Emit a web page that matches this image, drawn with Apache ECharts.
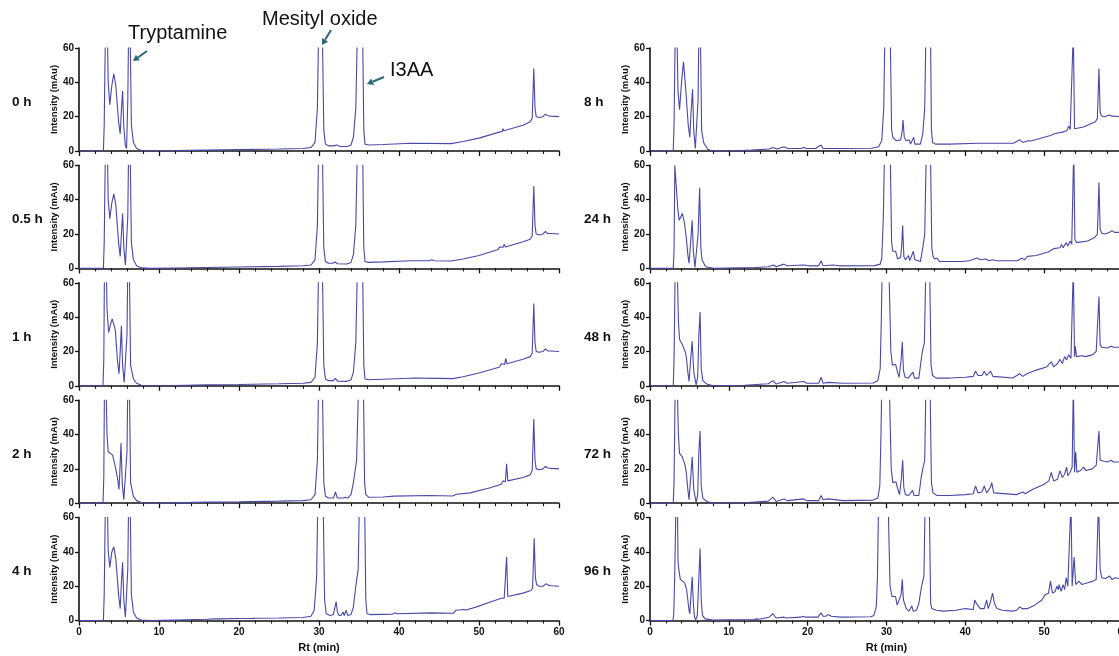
<!DOCTYPE html>
<html>
<head>
<meta charset="utf-8">
<script src="https://cdn.jsdelivr.net/npm/echarts@6/dist/echarts.min.js"></script>
<style>
html,body{margin:0;padding:0;background:#fff;}
#chart{width:1119px;height:656px;}
</style>
</head>
<body>
<div id="chart"></div>
<script>
// ---- Data (retention time in min, intensity in mAu), flat pairs [t, y, t, y, ...] ----
const panelLabels = ['0 h','0.5 h','1 h','2 h','4 h','8 h','24 h','48 h','72 h','96 h'];
const xTicks = [0,10,20,30,40,50,60];
const yTicks = [0,20,40,60];
const annotations = ['Tryptamine','Mesityl oxide','I3AA'];

const trace_0h = [0,0, 3.05,0, 3.15,15, 3.3,70, 3.45,200, 3.58,60, 3.65,40, 3.85,27, 4.1,38, 4.35,45, 4.6,38, 4.95,17, 5.15,10, 5.3,24, 5.45,35, 5.6,14, 5.8,3, 5.95,1.5, 6.1,30, 6.2,70, 6.3,200, 6.42,60, 6.55,15, 6.8,5, 7.2,1.5, 7.8,0.3, 9,0, 12,0.2, 16,0.5, 20,0.8, 25,1.2, 28,1.5, 29,2, 29.5,5, 29.8,25, 29.95,70, 30.2,250, 30.45,60, 30.6,12, 30.8,4, 31.2,3, 31.8,3, 32.2,3.5, 32.6,2.7, 33.5,2.6, 34,3.5, 34.3,8, 34.6,25, 34.8,70, 35.1,250, 35.45,70, 35.6,12, 35.75,4, 36.2,3.5, 38,3.8, 41.5,4.5, 46.5,4.3, 48,5.5, 50,7.5, 52.5,11, 52.9,11.5, 53.0,13, 53.1,11.8, 55.5,15, 56.4,17, 56.65,19, 56.85,48, 57.0,25, 57.15,20, 57.5,19.5, 58,20, 58.3,21.5, 58.6,20.5, 59,20.3, 60,20];
const trace_05h = [0,0, 3.05,0, 3.15,15, 3.3,70, 3.45,200, 3.58,60, 3.65,40, 3.85,29, 4.1,38, 4.35,43.5, 4.6,37, 4.95,15, 5.15,7, 5.3,20, 5.45,32, 5.6,12, 5.8,2, 5.95,1, 6.1,30, 6.2,70, 6.3,200, 6.42,60, 6.55,15, 6.8,5, 7.2,1.5, 7.8,0.3, 9,0, 12,0.2, 16,0.5, 20,0.8, 25,1.2, 28,1.5, 29,2, 29.5,5, 29.8,25, 29.95,70, 30.2,250, 30.45,60, 30.6,12, 30.8,4, 31.2,3, 31.7,3, 32.0,3.7, 32.3,2.7, 33.5,2.6, 34,3.5, 34.3,8, 34.6,25, 34.8,70, 35.1,250, 35.45,70, 35.6,12, 35.75,4, 36.2,3.5, 38,3.8, 41.5,4.5, 43.8,4.5, 44.1,5, 44.4,4.5, 46.5,4.3, 48,5.5, 50,7.5, 52.4,11, 52.55,12.5, 52.7,11.5, 53.0,12.3, 53.15,14, 53.3,12.5, 55.5,15.5, 56.4,17, 56.65,19, 56.85,48, 57.0,25, 57.15,20, 57.5,19.5, 58,20, 58.3,21.5, 58.6,20.3, 59,20.3, 60,20];
const trace_1h = [0,0, 3.0,0, 3.1,15, 3.2,80, 3.32,200, 3.45,60, 3.5,45, 3.7,31, 3.95,36, 4.15,39, 4.4,35, 4.55,32, 4.8,15, 5.0,7, 5.15,20, 5.3,35, 5.45,12, 5.65,2, 5.85,1, 6.0,30, 6.1,70, 6.2,200, 6.32,60, 6.45,12, 6.8,4, 7.2,1.5, 7.8,0.3, 9,0, 12,0.2, 16,0.6, 20,0.8, 25,1.2, 28,1.5, 29,2, 29.5,5, 29.8,25, 29.95,70, 30.2,250, 30.45,60, 30.6,12, 30.8,4, 31.2,3, 31.8,3, 32.05,4.3, 32.3,2.7, 33.5,2.6, 34,3.5, 34.3,8, 34.6,25, 34.8,70, 35.1,250, 35.45,70, 35.6,12, 35.75,4, 36.2,3.5, 38,3.8, 42,4.5, 44.4,4.3, 44.6,5, 44.8,4.3, 46.7,4.2, 48,5.3, 50,7.5, 52.6,11, 52.75,12.8, 52.9,11.8, 53.2,12.5, 53.35,16, 53.5,12.8, 55.5,15.5, 56.4,17, 56.65,19, 56.85,48, 57.0,25, 57.15,20, 57.5,19.5, 58,20, 58.3,21.5, 58.6,20.3, 59,20.3, 60,20];
const trace_2h = [0,0, 3.0,0, 3.1,15, 3.2,80, 3.3,200, 3.42,60, 3.5,40, 3.65,30, 3.9,30, 4.2,28, 4.5,22, 4.8,15, 5.0,8, 5.12,20, 5.25,35, 5.4,12, 5.6,2, 5.85,1.5, 6.0,30, 6.1,70, 6.2,200, 6.32,60, 6.45,12, 6.8,4, 7.2,1.5, 7.8,0.3, 9,0, 12,0.2, 16,0.6, 20,0.8, 25,1.2, 28,1.5, 29,2, 29.5,5, 29.8,25, 29.95,70, 30.2,250, 30.45,60, 30.6,12, 30.8,4, 31.2,3, 31.8,3, 32.05,6.5, 32.3,3, 33.0,3, 33.3,3.5, 33.6,3, 34.0,5, 34.3,12, 34.7,25, 34.95,70, 35.25,250, 35.55,70, 35.7,12, 35.85,5, 36.2,3.5, 38.0,3.6, 38.2,4.5, 38.4,3.8, 39.0,4, 39.2,4.6, 39.4,4.1, 43.8,4.5, 46.7,4.2, 47.2,5.2, 48.9,6, 51.4,9, 52.8,11, 53.0,13, 53.15,12, 53.3,12.5, 53.45,23, 53.6,13, 55.5,15, 56.4,16.5, 56.65,19, 56.85,49, 57.0,25, 57.15,20, 57.5,19.5, 58,20, 58.3,21.5, 58.6,20.5, 59,20.3, 60,20];
const trace_4h = [0,0, 3.05,0, 3.15,15, 3.3,70, 3.45,200, 3.58,60, 3.65,41, 3.85,31, 4.1,40, 4.35,43, 4.6,36, 4.95,15, 5.15,7, 5.3,22, 5.45,34, 5.6,12, 5.8,2, 5.95,1, 6.1,30, 6.2,70, 6.3,200, 6.42,60, 6.55,15, 6.8,5, 7.2,1.5, 7.8,0.3, 9,0, 12,0.3, 16,0.8, 17.0,1, 17.2,1.7, 17.4,1, 20,1.2, 21.7,1.3, 21.9,2.2, 22.1,1.4, 25,1.5, 28,1.8, 29,2.5, 29.4,6, 29.7,25, 29.85,70, 30.2,250, 30.55,60, 30.7,12, 30.9,4, 31.4,3, 31.8,3.5, 32.0,8, 32.15,11, 32.3,5, 32.5,3, 32.8,3.2, 33.0,5, 33.15,3, 33.4,6, 33.6,3, 34.0,3.5, 34.3,8, 34.6,20, 34.9,30, 35.05,70, 35.35,250, 35.7,70, 35.85,12, 36.0,4, 36.4,3.5, 39.2,3.8, 39.5,4.5, 39.8,4, 44,4.5, 46.8,4.3, 47.1,6, 47.3,5.2, 48.1,6.5, 48.4,6.2, 49.7,8, 51.5,11, 52.8,13, 53.0,14, 53.15,13, 53.3,13.5, 53.45,37, 53.6,14, 55.5,16, 56.5,17.5, 56.7,19, 56.9,48, 57.05,25, 57.2,21, 57.5,20, 58,20, 58.4,21.5, 58.7,20.5, 59,20.3, 60,20];
const trace_8h = [0,0, 2.95,0, 3.05,15, 3.2,70, 3.33,200, 3.45,60, 3.55,35, 3.75,24, 4.0,40, 4.25,52, 4.55,35, 4.85,15, 5.05,8, 5.2,22, 5.4,36, 5.55,12, 5.75,1.5, 5.95,1, 6.1,30, 6.2,70, 6.3,200, 6.42,60, 6.55,12, 6.8,5, 7.3,1, 7.9,0.2, 10,0, 12.9,0.5, 15.1,1.2, 15.6,2, 16.1,1.2, 17.0,2.5, 17.5,1.5, 19.2,1.5, 19.5,2.2, 19.8,1.5, 21.0,1.5, 21.7,3.5, 21.95,1.5, 24.5,1.5, 28.1,1.6, 29.0,2.5, 29.4,6, 29.65,25, 29.8,70, 30.15,250, 30.5,60, 30.65,12, 30.8,8, 31.2,6, 31.8,6.5, 32.0,12, 32.1,18, 32.25,8, 32.5,6, 32.7,5, 32.9,6.5, 33.05,4, 33.3,5, 33.45,8, 33.6,4, 34.3,4, 34.6,10, 34.85,25, 35.0,70, 35.3,250, 35.6,60, 35.7,12, 35.85,5, 36.2,4, 38,4, 41.6,4.5, 46.1,4.5, 46.9,6.5, 47.3,5, 47.9,6, 48.3,5.8, 50.8,9, 51.3,10, 52.3,11, 52.9,12, 53.1,14.5, 53.3,12.5, 53.55,13, 53.7,70, 53.85,13, 55.0,14, 56.5,17, 56.75,19, 56.95,48, 57.1,23, 57.25,20.5, 57.6,20, 58.3,21, 58.6,20.3, 60,20];
const trace_24h = [0,0, 2.95,0, 3.05,10, 3.15,60, 3.35,60, 3.45,40, 3.5,36, 3.7,28, 3.9,30, 4.1,32, 4.35,27, 4.6,18, 4.8,8, 4.95,3, 5.15,15, 5.35,28, 5.5,10, 5.7,0.5, 5.95,1, 6.1,20, 6.3,47, 6.45,12, 6.6,5, 7.05,1, 8.1,0, 13.4,0.5, 15.0,1, 15.7,2, 16.0,1, 17.0,2.5, 17.4,1.5, 19.5,2, 20.2,1.5, 21.4,1.5, 21.7,4.5, 21.95,1.5, 23.2,2, 24,1.5, 28.5,1.6, 29.2,2.5, 29.4,6, 29.6,30, 29.75,70, 30.1,250, 30.5,60, 30.65,15, 30.8,10, 31.0,9, 31.15,10, 31.4,5.5, 31.8,6.5, 31.95,15, 32.05,25, 32.2,7, 32.4,5, 32.6,5.5, 32.8,7.5, 32.95,4.5, 33.2,5, 33.4,10, 33.6,5, 34.3,4, 34.6,12, 34.85,20, 35.05,70, 35.35,250, 35.6,60, 35.75,12, 35.9,7, 36.1,5.5, 36.4,6, 36.7,4, 39.5,4, 40.5,4.5, 41.5,6, 41.9,5, 42.6,5.5, 43.0,4.5, 43.4,5, 44,4.5, 46.6,4.5, 47.2,6, 47.5,5, 47.9,7, 49.0,7.5, 50.5,9.5, 51.2,11.5, 51.4,10.5, 52.0,12, 52.2,14, 52.4,12, 52.8,15, 53.0,13, 53.3,16, 53.5,14, 53.6,15, 53.75,70, 53.9,17, 54.1,15, 55.5,16, 56.4,18, 56.75,20, 56.95,50, 57.1,23, 57.3,20.5, 57.7,20, 58.3,21, 58.6,22, 58.9,21, 60,21];
const trace_48h = [0,0, 2.95,0, 3.05,15, 3.2,70, 3.35,200, 3.5,60, 3.6,38, 3.75,27, 4.1,24, 4.45,20, 4.6,17, 4.8,8, 4.95,2.5, 5.15,15, 5.35,26, 5.55,8, 5.85,0.5, 6.05,5, 6.2,30, 6.35,43, 6.5,10, 6.7,3, 7.2,1, 8.0,0, 12,0.3, 15.0,1.2, 15.6,3, 16.0,1, 17.0,2.5, 17.4,1.5, 19.5,2.5, 19.9,1.5, 21.4,1.5, 21.7,5, 21.95,1.5, 22.6,2, 24.5,1.5, 28.3,1.6, 28.9,3, 29.2,10, 29.35,40, 29.45,70, 29.9,250, 30.35,60, 30.55,20, 30.75,12, 30.95,11, 31.15,12.5, 31.4,8, 31.6,5, 31.85,15, 32.0,25.5, 32.15,9, 32.35,5, 32.55,6, 32.75,4.5, 33.35,8, 33.55,4.5, 34.1,4.5, 34.4,15, 34.55,20, 34.8,25, 35.0,70, 35.25,250, 35.5,60, 35.65,12, 35.85,6, 36.1,6.5, 36.3,4.5, 38,4.5, 40,5, 41.0,5.5, 41.3,8.5, 41.6,6, 42.1,6, 42.4,8.5, 42.7,6, 43.2,8.5, 43.5,5.5, 46.0,4.5, 46.9,7, 47.3,5.5, 47.8,7, 48.9,9, 50.3,11, 50.9,14, 51.2,11, 51.7,13, 52.0,15.5, 52.3,13, 52.6,17, 52.85,15, 53.1,18, 53.4,16, 53.55,17, 53.7,70, 53.85,17, 53.95,23, 54.1,17, 54.8,17.5, 55.2,17, 56.1,18, 56.6,20, 56.95,52, 57.1,24, 57.3,22.5, 58,22, 58.5,23, 58.8,22.5, 60,22.5];
const trace_72h = [0,0, 2.95,0, 3.05,12, 3.2,70, 3.35,200, 3.5,60, 3.6,40, 3.75,29, 4.1,27, 4.45,22, 4.6,18, 4.8,8, 4.95,2, 5.15,14, 5.35,27, 5.55,8, 5.85,0.5, 6.05,5, 6.2,30, 6.35,42, 6.5,10, 6.7,3, 7.2,1, 8.0,0, 12,0.3, 15.0,1.2, 15.6,3.5, 16.0,1, 17.0,2.5, 17.4,1.5, 19.5,2.5, 19.9,1.5, 21.4,1.5, 21.7,4.5, 21.95,2, 22.6,2.5, 24.5,1.5, 28.3,1.8, 28.9,3, 29.15,10, 29.3,40, 29.4,70, 29.9,250, 30.4,60, 30.6,20, 30.8,12, 31.0,11, 31.2,12.5, 31.45,8, 31.65,5, 31.9,15, 32.05,25, 32.2,9, 32.4,5, 32.6,6, 32.8,4.5, 33.3,7.5, 33.5,4.5, 34.1,4.5, 34.4,15, 34.6,20, 34.85,25, 35.0,70, 35.3,250, 35.55,60, 35.7,12, 35.9,6, 36.15,6.5, 36.4,4.5, 38,4.5, 40,5, 41.0,5.5, 41.3,10, 41.6,6, 42.1,6.5, 42.4,10, 42.7,6, 43.15,9, 43.35,12, 43.6,6, 46.5,5, 47.3,6.5, 47.6,5.5, 48.5,8, 50.0,11, 50.6,13, 50.9,18, 51.2,13, 51.7,14, 52.0,19, 52.3,15, 52.6,17, 52.85,21, 53.0,16, 53.3,18, 53.55,21, 53.7,70, 53.85,18, 54.0,30, 54.15,18, 54.6,19, 55.0,21, 55.3,19, 56.1,20, 56.6,22, 56.95,42, 57.1,25, 57.3,24, 58,24, 58.5,25, 58.8,24, 60,24];
const trace_96h = [0,0, 2.9,0, 3.0,3, 3.05,10, 3.15,30, 3.3,70, 3.4,200, 3.5,60, 3.55,35, 3.65,30, 3.85,24, 4.05,23, 4.4,22, 4.65,18, 4.8,12, 4.95,6, 5.05,4, 5.2,15, 5.35,25.5, 5.5,10, 5.65,2, 5.8,0.5, 6.0,3, 6.2,25, 6.35,42, 6.5,12, 6.65,3, 7.0,1, 8.0,0.3, 9.9,0.5, 13.2,0.5, 13.5,1, 13.8,0.8, 15.1,2, 15.6,4, 16.0,1.5, 17.0,2, 17.3,1.5, 19.1,2, 19.4,2.5, 19.7,2, 21.3,2, 21.7,4.5, 21.95,2.5, 22.3,2.5, 22.6,3.5, 23.0,2.5, 24.2,2, 28.0,2.2, 28.4,3, 28.7,8, 28.85,25, 29.0,70, 29.6,250, 30.25,60, 30.45,20, 30.7,14, 30.95,13, 31.15,14, 31.35,9, 31.6,8, 31.85,15, 32.0,24, 32.15,12, 32.3,13, 32.5,7, 32.85,5.5, 33.2,8.5, 33.4,5.5, 33.8,6, 34.1,10, 34.45,20, 34.75,26, 34.9,70, 35.2,250, 35.45,60, 35.6,10, 35.75,7, 36.0,8, 36.3,6, 37.2,5.5, 38.8,6, 40.0,7, 40.2,6, 41.0,6.5, 41.2,12, 41.4,10, 41.55,11, 41.9,7, 42.4,7, 42.7,12, 42.9,7, 43.2,11, 43.45,16, 43.7,10, 44.0,7, 44.7,6, 46.0,5.5, 46.5,6, 46.9,8, 47.2,7, 47.9,7, 48.8,9, 49.7,12, 50.1,15, 50.35,14, 50.55,16, 50.8,23, 51.05,16, 51.4,17, 51.6,20, 51.8,18, 51.9,21, 52.15,17, 52.4,21, 52.6,18, 52.8,25, 53.0,20, 53.15,21, 53.4,70, 53.55,20, 53.8,37, 54.0,21, 54.4,23, 54.8,21, 55.5,22, 56.2,23, 56.6,24, 56.9,70, 57.1,30, 57.3,25, 57.8,24.5, 58.3,26, 58.6,24, 59,25, 60,24];

const traces = [trace_0h, trace_05h, trace_1h, trace_2h, trace_4h, trace_8h, trace_24h, trace_48h, trace_72h, trace_96h];

// ---- Build chart ----
function pairs(flat){ const out=[]; for(let i=0;i<flat.length;i+=2) out.push([flat[i], flat[i+1]]); return out; }

const FONT = '"Liberation Sans", Arial, Helvetica, sans-serif';
const LINE = '#4848aa';
const AXIS = '#111111';
const colLeft = [79, 650];
const colWidth = [480, 473];
const top0 = 48, step = 117.4, ph = 103;

const grids=[], xAxes=[], yAxes=[], series=[], graphics=[];
for (let i=0;i<10;i++){
  const col = i<5 ? 0 : 1;
  const row = i%5;
  const top = top0 + step*row;
  grids.push({left: colLeft[col], top: top, width: colWidth[col], height: ph, containLabel:false, outerBoundsMode:'none'});
  const bottom = row===4;
  xAxes.push({
    type:'value', gridIndex:i, min:xTicks[0], max:xTicks[xTicks.length-1], interval:10,
    axisLine:{show:true, onZero:false, lineStyle:{color:AXIS, width:1.6}},
    axisTick:{show:true, length:5, lineStyle:{color:AXIS, width:1.3}},
    minorTick:{show:true, splitNumber:5, length:3, lineStyle:{color:AXIS, width:1.1}},
    splitLine:{show:false},
    axisLabel:{show:bottom, color:AXIS, fontFamily:FONT, fontWeight:'bold', fontSize:10, margin:7, hideOverlap:false},
    name: bottom ? 'Rt (min)' : '', nameLocation:'middle', nameGap:22,
    nameTextStyle:{color:AXIS, fontFamily:FONT, fontWeight:'bold', fontSize:11}
  });
  yAxes.push({
    type:'value', gridIndex:i, min:yTicks[0], max:yTicks[yTicks.length-1], interval:20,
    axisLine:{show:true, lineStyle:{color:AXIS, width:1.6}},
    axisTick:{show:true, length:4, lineStyle:{color:AXIS, width:1.3}},
    splitLine:{show:false},
    axisLabel:{color:AXIS, fontFamily:FONT, fontWeight:'bold', fontSize:10, margin:5},
    name:'Intensity (mAu)', nameLocation:'middle', nameGap:16,
    nameTextStyle:{color:AXIS, fontFamily:FONT, fontWeight:'bold', fontSize:9.5}
  });
  series.push({
    type:'line', xAxisIndex:i, yAxisIndex:i, data:pairs(traces[i]),
    showSymbol:false, symbol:'none', clip:true, sampling:'none',
    lineStyle:{color:LINE, width:1.1}, animation:false, silent:true
  });
  graphics.push({
    type:'text', left: col===0 ? 12 : 584, top: top + 47,
    style:{text: panelLabels[i], font:'bold 13.5px '+FONT, fill:'#111'}
  });
}

// annotation texts
const annoFont = '20px ' + FONT;
graphics.push({type:'text', left:128, top:23, style:{text:annotations[0], font:annoFont, fill:'#111'}});
graphics.push({type:'text', left:262, top:9, style:{text:annotations[1], font:annoFont, fill:'#111'}});
graphics.push({type:'text', left:390, top:60, style:{text:annotations[2], font:annoFont, fill:'#111'}});

// arrows
const ARROW = '#2a6877';
function arrow(x1,y1,x2,y2){
  const ang = Math.atan2(y2-y1, x2-x1);
  const hl = 6, hw = 3.5;
  const bx = x2 - hl*Math.cos(ang), by = y2 - hl*Math.sin(ang);
  const px = -Math.sin(ang)*hw, py = Math.cos(ang)*hw;
  graphics.push({type:'line', shape:{x1:x1,y1:y1,x2:bx,y2:by}, style:{stroke:ARROW, lineWidth:2}});
  graphics.push({type:'polygon', shape:{points:[[x2,y2],[bx+px,by+py],[bx-px,by-py]]}, style:{fill:ARROW}});
}
arrow(147,51,133,61);
arrow(331,30,322,45);
arrow(384,77,367,84);

const chart = echarts.init(document.getElementById('chart'), null, {renderer:'canvas'});
chart.setOption({
  animation:false,
  backgroundColor:'#ffffff',
  grid:grids, xAxis:xAxes, yAxis:yAxes, series:series, graphic:graphics
});
</script>
</body>
</html>
